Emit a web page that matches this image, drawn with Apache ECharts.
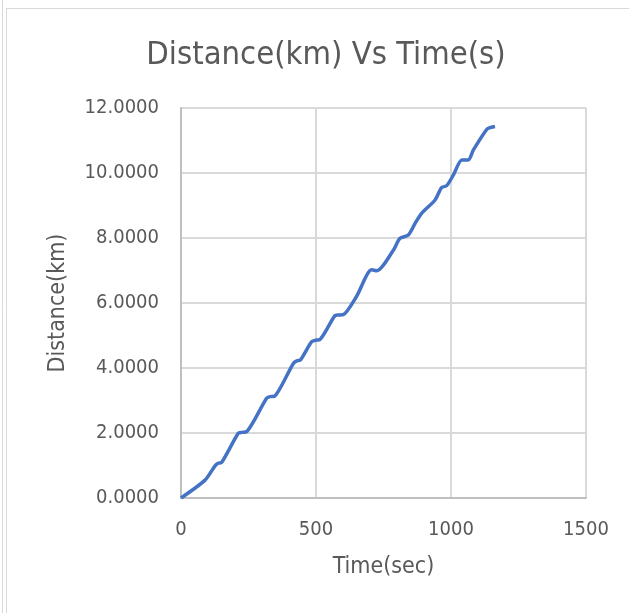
<!DOCTYPE html>
<html>
<head>
<meta charset="utf-8">
<script src="https://cdn.jsdelivr.net/npm/echarts@6/dist/echarts.min.js"></script>
<style>
html,body{margin:0;padding:0;background:#fff;}
#c{width:629px;height:613px;}
</style>
</head>
<body>
<div id="c"></div>
<script>
const timeSec = [0, 89, 126, 137, 151, 212, 225, 243, 317, 330, 348, 416, 429, 443, 484, 503, 514, 570, 583, 601, 650, 706, 725, 787, 811, 842, 867, 891, 941, 965, 984, 1009, 1040, 1064, 1083, 1132, 1142, 1163];
const distanceKm = [0, 0.55, 0.99, 1.07, 1.10, 1.99, 2.02, 2.04, 3.07, 3.12, 3.14, 4.14, 4.22, 4.25, 4.81, 4.86, 4.87, 5.61, 5.63, 5.64, 6.2, 7.02, 6.99, 7.63, 7.99, 8.09, 8.45, 8.76, 9.17, 9.55, 9.61, 9.94, 10.40, 10.40, 10.71, 11.34, 11.39, 11.43];
const titleText = "Distance(km) Vs Time(s)";
const xName = "Time(sec)";
const yName = "Distance(km)";

const FONT = "'DejaVu Sans Condensed', 'DejaVu Sans', sans-serif";
const chart = echarts.init(document.getElementById('c'));
chart.setOption({
  animation: false,
  backgroundColor: '#fff',
  title: {
    text: titleText, left: 321, top: 34, textAlign: 'center',
    textStyle: {color: '#595959', fontSize: 32.5, fontWeight: 'normal', fontFamily: FONT}
  },
  grid: {left: 181, right: 43, top: 108, bottom: 115},
  xAxis: {
    type: 'value', min: 0, max: 1500, interval: 500,
    name: xName, nameLocation: 'middle', nameGap: 58,
    nameTextStyle: {color: '#595959', fontSize: 23, fontFamily: FONT},
    axisLine: {show: true, lineStyle: {color: '#bfbfbf', width: 2}},
    axisTick: {show: false},
    axisLabel: {color: '#595959', fontSize: 20, fontFamily: FONT, margin: 22, formatter: v => String(v)},
    splitLine: {show: true, lineStyle: {color: '#d9d9d9', width: 2}}
  },
  yAxis: {
    type: 'value', min: 0, max: 12, interval: 2,
    name: yName, nameLocation: 'middle', nameGap: 111,
    nameTextStyle: {color: '#595959', fontSize: 23, fontFamily: FONT},
    axisLine: {show: true, lineStyle: {color: '#bfbfbf', width: 2}},
    axisTick: {show: false},
    axisLabel: {color: '#595959', fontSize: 20, fontFamily: FONT, margin: 22, formatter: v => v.toFixed(4)},
    splitLine: {show: true, lineStyle: {color: '#d9d9d9', width: 2}}
  },
  series: [{
    type: 'line', showSymbol: false, smooth: 0.25,
    data: timeSec.map((t, i) => [t, distanceKm[i]]),
    lineStyle: {color: '#4472C4', width: 3.5},
    itemStyle: {color: '#4472C4'}
  }],
  graphic: [
    {type: 'line', shape: {x1: 6, y1: 8.5, x2: 629, y2: 8.5}, style: {stroke: '#d9d9d9', lineWidth: 1}},
    {type: 'line', shape: {x1: 6.5, y1: 8, x2: 6.5, y2: 613}, style: {stroke: '#d9d9d9', lineWidth: 1}},
    {type: 'line', shape: {x1: 2.5, y1: 0, x2: 2.5, y2: 613}, style: {stroke: '#d9d9d9', lineWidth: 1}}
  ]
});
</script>
</body>
</html>
